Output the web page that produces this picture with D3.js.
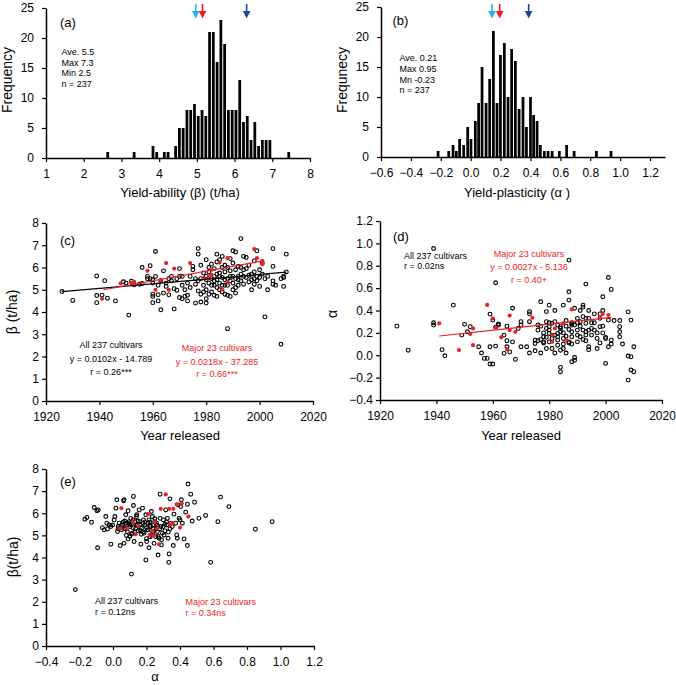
<!DOCTYPE html>
<html>
<head>
<meta charset="utf-8">
<script src="https://cdn.jsdelivr.net/npm/d3@7"></script>
<style>
  body { margin: 0; background: #fff; }
  svg text { font-family: "Liberation Sans", Arial, sans-serif; fill: #000; }
</style>
</head>
<body>
<svg id="chart" width="676" height="685"></svg>
<script>
// ---- (a) yield-ability histogram: bin start and frequency
var betaBins = [2.6, 3.3, 3.8, 3.9, 4.1, 4.2, 4.4, 4.5, 4.6, 4.7, 4.8, 4.9, 5.0, 5.1, 5.2, 5.3, 5.4, 5.5, 5.6, 5.7,
                5.8, 5.9, 6.0, 6.1, 6.2, 6.3, 6.4, 6.5, 6.6, 6.7, 6.8, 6.9, 7.4];
var betaCounts = [1, 1, 2, 1, 1, 1, 2, 5, 5, 8, 8, 9, 7, 8, 7, 21, 21, 16, 23, 19,
                  8, 8, 8, 13, 6, 7, 3, 6, 2, 3, 3, 3, 1];
var betaArrows = [4.97, 5.15, 6.32];

// ---- (b) yield-plasticity histogram: bar centre and frequency
var alphaMids = [-0.218, -0.147, -0.118, -0.096, -0.074, -0.047, -0.020, 0.002, 0.031, 0.053, 0.076, 0.103,
                 0.127, 0.152, 0.176, 0.199, 0.225, 0.250, 0.274, 0.299, 0.324, 0.350, 0.373, 0.400,
                 0.421, 0.444, 0.466, 0.493, 0.518, 0.545, 0.593, 0.642, 0.692, 0.841, 0.939];
var alphaCounts = [1, 1, 2, 1, 3, 2, 5, 3, 6, 9, 15, 9, 13, 21, 9, 17, 19, 10, 18, 16, 8, 10, 5, 10,
                   7, 6, 2, 1, 1, 1, 1, 2, 1, 1, 1];
var alphaArrows = [0.143, 0.194, 0.388];
var arrowColors = ["#1fb5ee", "#f2181e", "#1b4a88"];

// ---- (c) year released vs beta
var yearBeta = [[1926,4.92],[1930,4.52],[1939,5.62],[1939,4.74],[1939,4.42],[1941,4.76],[1942,5.41],[1943,4.62],
  [1946,4.5],[1949,5.36],[1950,5.3],[1951,3.86],[1952,5.38],[1953,5.22],[1955,5.25],[1956,6.0],[1956,5.28],
  [1958,5.5],[1958,5.6],[1959,6.08],[1959,5.5],[1960,5.45],[1960,5.3],[1960,4.8],[1960,4.42],[1960,4.7],
  [1961,6.72],[1961,5.6],[1962,4.78],[1962,5.2],[1962,4.5],[1963,4.1],[1963,5.4],[1964,5.85],[1964,4.85],
  [1965,5.3],[1965,5.15],[1966,5.5],[1966,4.77],[1967,5.6],[1967,5.4],[1968,4.14],[1968,5.05],[1969,4.98],
  [1969,5.5],[1970,5.6],[1970,4.65],[1970,5.95],[1971,5.2],[1971,4.6],[1971,5.6],[1972,4.7],[1972,5.0],
  [1973,4.5],[1973,4.75],[1973,5.3],[1974,5.6],[1974,5.1],[1975,6.05],[1975,5.9],[1976,5.5],[1976,5.25],
  [1976,4.4],[1977,6.85],[1977,6.6],[1977,5.4],[1977,4.95],[1978,6.1],[1978,5.5],[1978,4.8],[1978,4.45],
  [1979,5.2],[1979,4.9],[1979,5.75],[1980,6.35],[1980,5.6],[1980,5.0],[1980,4.6],[1980,4.4],[1980,5.45],
  [1981,6.0],[1981,5.8],[1981,5.3],[1981,4.8],[1982,6.15],[1982,5.5],[1982,5.2],[1982,4.9],[1983,5.95],
  [1983,5.6],[1983,5.4],[1983,4.75],[1983,5.2],[1984,6.6],[1984,6.25],[1984,5.7],[1984,5.1],[1984,4.7],
  [1984,5.45],[1985,6.35],[1985,5.6],[1985,5.3],[1985,5.0],[1985,5.75],[1986,6.5],[1986,6.0],[1986,5.55],
  [1986,5.2],[1986,4.9],[1987,6.1],[1987,5.8],[1987,5.2],[1987,4.8],[1987,5.45],[1988,6.0],[1988,5.5],
  [1988,5.2],[1988,4.75],[1988,3.25],[1989,6.4],[1989,5.85],[1989,5.4],[1989,4.7],[1989,5.6],[1990,6.75],
  [1990,6.2],[1990,5.3],[1990,5.0],[1990,5.6],[1991,6.7],[1991,5.9],[1991,5.5],[1991,5.1],[1991,4.85],
  [1992,6.05],[1992,5.6],[1992,5.2],[1992,5.45],[1993,7.3],[1993,6.0],[1993,5.7],[1993,5.4],[1994,6.5],
  [1994,5.6],[1994,5.25],[1994,5.9],[1995,6.45],[1995,5.95],[1995,5.55],[1996,6.1],[1996,5.65],[1996,5.35],
  [1997,5.7],[1997,5.0],[1997,5.45],[1998,6.3],[1998,5.8],[1998,5.5],[1998,5.25],[1999,6.75],[1999,5.6],
  [1999,5.4],[2000,5.9],[2000,5.55],[2000,5.15],[2001,6.2],[2001,5.7],[2002,5.5],[2002,3.78],[2003,5.0],
  [2003,5.6],[2005,6.85],[2005,6.05],[2005,5.4],[2005,5.25],[2006,5.2],[2008,5.5],[2008,2.55],[2009,5.55],
  [2009,5.15],[2009,5.6],[2010,6.6],[2010,5.8]];
var yearBetaMajor = [[1941,4.59],[1948,5.29],[1952,5.3],[1953,5.35],[1958,5.85],[1961,5.0],[1963,5.44],
  [1965,6.2],[1966,4.99],[1968,5.95],[1974,6.2],[1979,5.52],[1981,5.6],[1982,5.67],[1982,5.9],[1985,6.22],
  [1986,5.02],[1988,5.34],[1988,6.42],[1998,6.83],[1999,6.42],[2001,6.15],[2001,6.3]];
var fitBetaAll = [[1926,4.92],[2010,5.79]];
var fitBetaMajor = [[1941.5,5.0],[2001.3,6.3]];

// ---- (d) year released vs alpha
var yearAlpha = [[1926,0.26],[1930,0.045],[1939,0.954],[1939,0.29],[1939,0.27],[1942,0.05],[1943,-0.005],
  [1946,0.448],[1949,0.18],[1950,0.276],[1951,0.21],[1952,0.255],[1955,0.076],[1956,0.02],[1957,-0.028],
  [1958,-0.028],[1959,0.368],[1959,0.076],[1959,-0.078],[1960,-0.078],[1960,0.314],[1961,0.082],
  [1961,0.648],[1961,0.25],[1962,0.28],[1962,0.27],[1964,0.18],[1964,0.017],[1965,0.26],[1965,0.13],
  [1965,0.076],[1966,0.03],[1967,0.12],[1967,0.42],[1968,-0.037],[1969,0.24],[1970,0.27],[1970,0.076],
  [1970,0.3],[1972,0.076],[1973,0.3],[1973,0.39],[1973,0.37],[1973,0.02],[1975,0.135],[1975,0.105],
  [1975,0.04],[1976,0.225],[1976,0.27],[1976,0.13],[1977,0.02],[1977,0.478],[1977,0.26],[1977,0.14],
  [1978,0.165],[1978,0.11],[1978,0.12],[1978,0.2],[1979,0.24],[1979,0.39],[1979,0.16],[1979,0.06],
  [1979,0.3],[1980,0.448],[1980,0.255],[1980,0.195],[1980,0.225],[1980,0.12],[1980,0.29],[1981,0.18],
  [1981,0.15],[1981,0.285],[1981,0.06],[1982,0.3],[1982,0.4],[1982,0.18],[1982,0.02],[1983,0.135],
  [1983,0.09],[1983,0.165],[1983,0.195],[1983,0.27],[1984,-0.108],[1984,-0.147],[1984,0.24],[1984,0.21],
  [1984,0.255],[1984,0.045],[1985,0.15],[1985,0.1],[1985,0.448],[1985,0.2],[1985,0.06],[1986,0.26],
  [1986,0.31],[1986,0.17],[1986,0.02],[1987,0.493],[1987,0.85],[1987,0.567],[1987,0.11],[1987,0.12],
  [1987,0.23],[1988,0.1],[1988,0.28],[1988,0.29],[1988,0.27],[1988,-0.058],[1988,0.165],[1988,0.21],
  [1989,-0.045],[1989,-0.02],[1989,0.42],[1989,0.27],[1990,0.29],[1990,0.225],[1990,0.33],[1990,0.12],
  [1990,0.18],[1991,0.165],[1991,0.4],[1991,0.3],[1991,0.26],[1992,0.448],[1992,0.345],[1992,0.225],
  [1992,0.43],[1992,0.14],[1993,0.285],[1993,0.33],[1993,0.636],[1993,0.18],[1993,0.21],[1993,0.13],
  [1994,0.05],[1994,0.076],[1994,0.4],[1994,0.33],[1994,0.225],[1995,0.29],[1995,0.18],[1995,0.24],
  [1996,0.225],[1996,0.29],[1996,0.37],[1997,0.15],[1997,0.06],[1997,0.2],[1998,0.33],[1998,0.37],
  [1998,0.255],[1998,0.11],[1999,0.523],[1999,0.4],[1999,0.2],[1999,0.26],[2000,0.15],[2000,0.16],
  [2000,-0.073],[2001,0.695],[2001,0.314],[2001,0.076],[2002,0.588],[2002,0.135],[2002,0.1],[2003,0.31],
  [2005,0.31],[2005,0.255],[2005,0.165],[2005,0.21],[2006,0.1],[2008,0.388],[2008,-0.007],[2008,-0.222],
  [2009,0.314],[2009,-0.013],[2009,-0.132],[2010,0.076],[2010,-0.147]];
var yearAlphaMajor = [[1941,0.285],[1948,0.046],[1952,0.19],[1953,0.24],[1953,0.09],[1958,0.45],[1960,0.33],
  [1961,0.25],[1963,0.16],[1965,0.055],[1966,0.355],[1966,0.225],[1968,0.21],[1974,0.335],[1981,0.12],
  [1981,0.18],[1982,0.24],[1985,0.285],[1986,0.136],[1988,0.41],[1998,0.34],[1999,0.37],[2001,0.36]];
var fitAlphaMajor = [[1941,0.172],[2002,0.338]];

// ---- (e) alpha vs beta
var alphaBeta = [[-0.225,2.55],[-0.168,5.73],[-0.156,5.81],[-0.128,5.59],[-0.112,6.26],[-0.096,6.11],
  [-0.088,6.15],[-0.092,4.44],[-0.063,5.35],[-0.053,5.25],[-0.043,5.85],[-0.037,5.55],[-0.033,5.29],
  [-0.023,5.47],[-0.013,5.4],[-0.003,5.47],[-0.013,4.6],[0.007,5.7],[0.011,5.85],[0.017,6.23],[0.023,6.61],
  [0.027,5.17],[0.031,5.4],[0.037,5.55],[0.043,4.54],[0.047,5.35],[0.051,5.25],[0.057,5.47],[0.063,6.56],
  [0.066,6.61],[0.066,4.64],[0.07,5.65],[0.076,5.93],[0.076,5.55],[0.082,5.32],[0.086,5.17],[0.09,4.84],
  [0.09,6.11],[0.096,5.62],[0.102,5.4],[0.106,5.77],[0.11,5.47],[0.11,3.25],[0.116,5.1],[0.122,6.76],
  [0.122,6.35],[0.126,4.72],[0.13,5.62],[0.136,5.32],[0.142,5.93],[0.146,5.47],[0.15,5.2],[0.156,6.15],
  [0.16,5.62],[0.166,4.6],[0.17,5.32],[0.176,6.23],[0.182,5.7],[0.186,5.1],[0.19,5.47],[0.196,5.93],
  [0.196,3.89],[0.201,4.72],[0.205,5.25],[0.209,5.55],[0.215,5.7],[0.215,4.44],[0.221,4.94],[0.225,5.4],
  [0.229,6.08],[0.235,5.1],[0.235,5.85],[0.241,5.32],[0.245,4.64],[0.249,5.62],[0.255,4.94],[0.261,5.47],
  [0.265,5.17],[0.269,4.11],[0.275,4.87],[0.281,6.86],[0.281,5.77],[0.285,5.4],[0.289,4.57],[0.295,5.1],
  [0.301,5.7],[0.305,5.02],[0.309,5.5],[0.315,6.15],[0.321,5.47],[0.325,5.77],[0.329,4.87],[0.333,3.78],
  [0.335,4.16],[0.34,6.65],[0.344,5.55],[0.354,5.4],[0.36,4.54],[0.364,5.96],[0.374,5.55],[0.38,5.02],
  [0.384,4.87],[0.388,6.38],[0.394,5.77],[0.4,5.7],[0.404,6.3],[0.408,6.61],[0.414,5.55],[0.424,4.84],
  [0.434,6.05],[0.444,6.41],[0.448,7.32],[0.444,4.54],[0.464,6.86],[0.473,5.65],[0.487,6.5],[0.513,5.77],
  [0.553,5.9],[0.583,3.78],[0.626,5.62],[0.642,6.73],[0.692,6.3],[0.85,5.28],[0.95,5.62],
  [0.1,5.5],[0.12,5.35],[0.14,5.45],[0.16,5.25],[0.18,5.55],[0.2,5.35],[0.22,5.6],[0.24,5.15],[0.26,5.55],
  [0.28,5.3],[0.3,5.4],[0.32,5.6],[0.05,5.45],[0.07,5.3],[0.09,5.55],[0.13,5.15],[0.17,5.05],[0.19,5.6],
  [0.23,5.0],[0.27,4.95],[0.31,5.2],[0.25,5.75],[0.21,5.25],[0.15,5.65],[0.11,5.05],[0.03,5.3],[0.29,4.8],
  [0.33,5.15],[0.06,5.6],[0.2,4.85],[0.18,5.15],[0.14,5.85],[0.26,5.3],[0.24,5.45],[0.34,5.3],[0.1,4.95],
  [0.08,5.0],[0.12,5.7],[0.22,5.45],[0.16,5.5]];
var alphaBetaMajor = [[0.05,6.23],[0.045,5.32],[0.085,5.32],[0.135,5.05],[0.15,5.44],[0.21,5.96],[0.22,5.02],
  [0.235,5.2],[0.245,4.99],[0.275,4.6],[0.285,6.2],[0.265,5.32],[0.315,6.85],[0.335,6.2],[0.34,5.5],
  [0.355,5.55],[0.36,6.2],[0.38,6.4],[0.41,6.45],[0.45,5.85],[0.40,5.35],[0.12,5.6],[0.25,5.6]];

var RED = "#ee1c24";
var FONT = '"Liberation Sans", Arial, sans-serif';
var svg = d3.select("#chart");

// scales for the five panels
var xA = d3.scaleLinear().domain([1, 8]).range([46, 310]);
var yA = d3.scaleLinear().domain([0, 25]).range([158, 8]);
var xB = d3.scaleLinear().domain([-0.6, 1.3]).range([381, 665]);
var yB = d3.scaleLinear().domain([0, 25]).range([157, 7]);
var xC = d3.scaleLinear().domain([1920, 2020]).range([46, 313]);
var yC = d3.scaleLinear().domain([0, 8]).range([401, 223]);
var xD = d3.scaleLinear().domain([1920, 2020]).range([380, 662]);
var yD = d3.scaleLinear().domain([-0.4, 1.2]).range([400, 221]);
var xE = d3.scaleLinear().domain([-0.4, 1.2]).range([46, 314]);
var yE = d3.scaleLinear().domain([0, 8]).range([646, 469]);

var f1 = d3.format(".1f");

function axes(x, y, xTicks, yTicks, xFmt, yFmt, yPad) {
  var gx = svg.append("g")
    .attr("transform", `translate(0,${y.range()[0]})`)
    .call(d3.axisBottom(x).tickValues(xTicks).tickFormat(xFmt).tickSize(4).tickSizeOuter(0).tickPadding(7));
  var gy = svg.append("g")
    .attr("transform", `translate(${x.range()[0]},0)`)
    .call(d3.axisLeft(y).tickValues(yTicks).tickFormat(yFmt).tickSize(4).tickSizeOuter(0).tickPadding(yPad));
  [gx, gy].forEach(function(g) {
    g.attr("font-size", 12).attr("font-family", FONT);
    g.select(".domain").attr("stroke-width", 1.5);
    g.selectAll(".tick line").attr("stroke-width", 1.2);
  });
}

function text(x, y, str, size, opts) {
  opts = opts || {};
  var t = svg.append("text")
    .attr("x", x).attr("y", y)
    .attr("font-size", size)
    .style("text-anchor", opts.anchor || "start")
    .text(str);
  if (opts.color) t.style("fill", opts.color);
  if (opts.rotate) t.attr("transform", `rotate(-90,${x},${y})`);
  return t;
}

function arrows(x, vals) {
  vals.forEach(function(v, i) {
    var px = x(v);
    svg.append("line").attr("x1", px).attr("x2", px).attr("y1", 4).attr("y2", 12)
      .attr("stroke", arrowColors[i]).attr("stroke-width", 1.6);
    svg.append("path")
      .attr("d", `M${px - 3.8},11 L${px + 3.8},11 L${px},18.5 Z`)
      .attr("fill", arrowColors[i]);
  });
}

function scatter(x, y, pts, major) {
  svg.append("g").selectAll("circle")
    .data(pts).join("circle")
    .attr("cx", function(d) { return x(d[0]); })
    .attr("cy", function(d) { return y(d[1]); })
    .attr("r", 1.9)
    .attr("fill", "none")
    .attr("stroke", "#000")
    .attr("stroke-width", 1.1);
  svg.append("g").selectAll("circle")
    .data(major).join("circle")
    .attr("cx", function(d) { return x(d[0]); })
    .attr("cy", function(d) { return y(d[1]); })
    .attr("r", 2.1)
    .attr("fill", "#e0262b");
}

function fit(x, y, pts, color) {
  svg.append("line")
    .attr("x1", x(pts[0][0])).attr("y1", y(pts[0][1]))
    .attr("x2", x(pts[1][0])).attr("y2", y(pts[1][1]))
    .attr("stroke", color).attr("stroke-width", 1.2);
}

// ---------- (a)
svg.append("g").selectAll("rect")
  .data(d3.zip(betaBins, betaCounts)).join("rect")
  .attr("x", function(d) { return xA(d[0]); })
  .attr("width", function(d) { return xA(d[0] + 0.1) - xA(d[0]) - 1; })
  .attr("y", function(d) { return yA(d[1]); })
  .attr("height", function(d) { return yA(0) - yA(d[1]); })
  .attr("fill", "#000");
axes(xA, yA, d3.range(1, 9), d3.range(0, 26, 5), d3.format("d"), d3.format("d"), 8);
arrows(xA, betaArrows);
text(60, 27, "(a)", 13);
["Ave. 5.5", "Max 7.3", "Min 2.5", "n = 237"].forEach(function(s, i) { text(61.5, 55 + i * 10.6, s, 9); });
text(180, 197, "Yield-ability (β) (t/ha)", 13, {anchor: "middle"});
text(12, 80, "Frequency", 14, {anchor: "middle", rotate: true});

// ---------- (b)
var alphaBarW = xB(0.025) - xB(0) - 1;
svg.append("g").selectAll("rect")
  .data(d3.zip(alphaMids, alphaCounts)).join("rect")
  .attr("x", function(d) { return xB(d[0]) - alphaBarW / 2; })
  .attr("width", alphaBarW)
  .attr("y", function(d) { return yB(d[1]); })
  .attr("height", function(d) { return yB(0) - yB(d[1]); })
  .attr("fill", "#000");
axes(xB, yB, d3.range(-6, 13, 2).map(function(d) { return d / 10; }), d3.range(0, 26, 5), f1, d3.format("d"), 8);
arrows(xB, alphaArrows);
text(392.5, 25, "(b)", 13);
["Ave. 0.21", "Max 0.95", "Mn -0.23", "n = 237"].forEach(function(s, i) { text(399.5, 61 + i * 10.8, s, 9); });
text(517, 197, "Yield-plasticity (α )", 13, {anchor: "middle"});
text(347, 80, "Frequnecy", 14, {anchor: "middle", rotate: true});

// ---------- (c)
axes(xC, yC, d3.range(1920, 2021, 20), d3.range(0, 9), d3.format("d"), d3.format("d"), 3);
scatter(xC, yC, yearBeta, yearBetaMajor);
fit(xC, yC, fitBetaAll, "#000");
fit(xC, yC, fitBetaMajor, RED);
text(60, 244.5, "(c)", 13);
text(111, 348, "All 237 cultivars", 9, {anchor: "middle"});
text(111, 361.5, "y = 0.0102x - 14.789", 9, {anchor: "middle"});
text(111, 374.5, "r = 0.26***", 9, {anchor: "middle"});
text(217, 351, "Major 23 cultivars", 9, {anchor: "middle", color: RED});
text(217, 364.5, "y = 0.0218x - 37.285", 9, {anchor: "middle", color: RED});
text(217, 376.5, "r = 0.66***", 9, {anchor: "middle", color: RED});
text(180, 440, "Year released", 13, {anchor: "middle"});
text(17, 312, "β (t/ha)", 14, {anchor: "middle", rotate: true});

// ---------- (d)
axes(xD, yD, d3.range(1920, 2021, 20), d3.range(-4, 13, 2).map(function(d) { return d / 10; }), d3.format("d"), f1, 3);
scatter(xD, yD, yearAlpha, yearAlphaMajor);
fit(xD, yD, fitAlphaMajor, RED);
text(393, 240.5, "(d)", 13);
text(404, 258.5, "All 237 cultivars", 9);
text(404, 269, "r = 0.02ns", 9);
text(529, 257, "Major 23 cultivars", 9, {anchor: "middle", color: RED});
text(529, 270, "y = 0.0027x - 5.136", 9, {anchor: "middle", color: RED});
text(529, 283, "r = 0.40+", 9, {anchor: "middle", color: RED});
text(521, 440, "Year released", 13, {anchor: "middle"});
text(337, 314, "α", 14, {anchor: "middle", rotate: true});

// ---------- (e)
axes(xE, yE, d3.range(-4, 13, 2).map(function(d) { return d / 10; }), d3.range(0, 9), f1, d3.format("d"), 3);
scatter(xE, yE, alphaBeta, alphaBetaMajor);
text(60, 485.5, "(e)", 13);
text(95, 603.5, "All 237 cultivars", 9);
text(95, 614.5, "r = 0.12ns", 9);
text(185.5, 605, "Major 23 cultivars", 9, {color: RED});
text(185.5, 616, "r = 0.34ns", 9, {color: RED});
text(155, 681, "α", 13, {anchor: "middle"});
text(18, 557, "β(t/ha)", 14, {anchor: "middle", rotate: true});
</script>
</body>
</html>
